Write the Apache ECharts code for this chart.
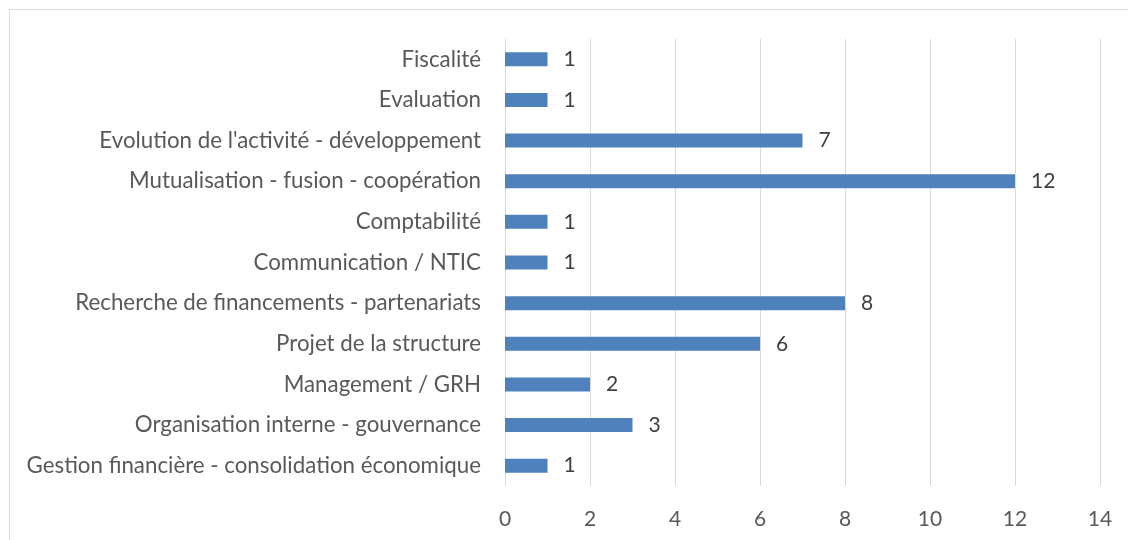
<!DOCTYPE html>
<html>
<head>
<meta charset="utf-8">
<script src="https://cdn.jsdelivr.net/npm/echarts@6/dist/echarts.min.js"></script>
<style>
html,body{margin:0;padding:0;background:#fff;}
#chart{width:1128px;height:540px;}
</style>
</head>
<body>
<div id="chart"></div>
<script>
const categories = [
  "Gestion financière - consolidation économique",
  "Organisation interne - gouvernance",
  "Management / GRH",
  "Projet de la structure",
  "Recherche de financements - partenariats",
  "Communication / NTIC",
  "Comptabilité",
  "Mutualisation - fusion - coopération",
  "Evolution de l'activité - développement",
  "Evaluation",
  "Fiscalité"
];
const values = [1, 3, 2, 6, 8, 1, 1, 12, 7, 1, 1];
const xTicks = [0, 2, 4, 6, 8, 10, 12, 14];

const chart = echarts.init(document.getElementById('chart'), null, {renderer: 'canvas'});
const font = 'Lato';
chart.setOption({
  animation: false,
  backgroundColor: '#fff',
  graphic: [{
    type: 'rect',
    shape: {x: 9.5, y: 9.5, width: 1300, height: 700},
    style: {fill: 'none', stroke: '#d9d9d9', lineWidth: 1},
    silent: true
  }],
  grid: {left: 505, right: 28, top: 39, bottom: 54, containLabel: false},
  xAxis: {
    type: 'value',
    min: xTicks[0],
    max: xTicks[xTicks.length - 1],
    interval: 2,
    axisLine: {show: false},
    axisTick: {show: false},
    splitLine: {show: true, lineStyle: {color: '#d9d9d9', width: 1}},
    axisLabel: {color: '#595959', fontSize: 21, fontFamily: font, margin: 23}
  },
  yAxis: {
    type: 'category',
    data: categories,
    axisLine: {show: false},
    axisTick: {show: false},
    axisLabel: {color: '#595959', fontSize: 22.3, fontFamily: font, margin: 24}
  },
  series: [{
    type: 'bar',
    data: values,
    barWidth: 14,
    itemStyle: {color: '#4f81bd'},
    label: {
      show: true,
      position: 'right',
      distance: 16,
      color: '#404040',
      fontSize: 21,
      fontFamily: font
    }
  }]
});
</script>
</body>
</html>
